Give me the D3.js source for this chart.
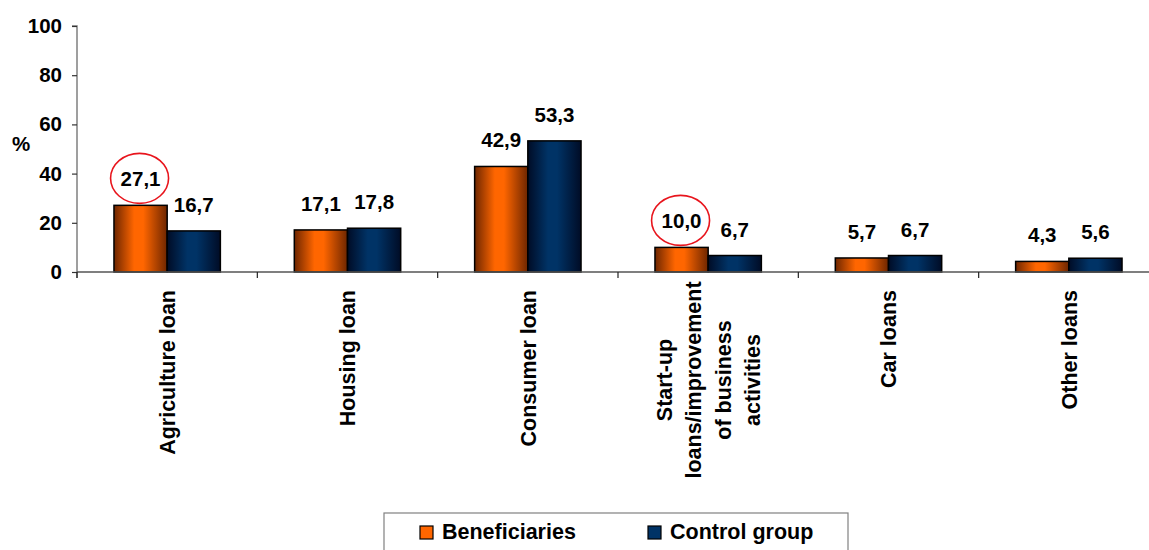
<!DOCTYPE html>
<html>
<head>
<meta charset="utf-8">
<script src="https://cdn.jsdelivr.net/npm/d3@7"></script>
<style>
  html, body { margin: 0; padding: 0; background: #fff; }
  svg { display: block; font-family: "Liberation Sans", Arial, sans-serif; font-weight: bold; }
</style>
</head>
<body>
<svg id="chart" width="1149" height="550"></svg>
<script>
// Loan types
const categories = [
  ["Agriculture loan"],
  ["Housing loan"],
  ["Consumer loan"],
  ["Start-up", "loans/improvement", "of business", "activities"],
  ["Car loans"],
  ["Other loans"]
];
const seriesNames = ["Beneficiaries", "Control group"];
const beneficiaries = [27.1, 17.1, 42.9, 10.0, 5.7, 4.3];
const controlGroup  = [16.7, 17.8, 53.3, 6.7, 6.7, 5.6];
const yTicks = [0, 20, 40, 60, 80, 100];
// Values singled out with a red ring: [category index, series index]
const highlighted = [[0, 0], [3, 0]];

const fmt = v => v.toFixed(1).replace(".", ",");

const svg = d3.select("#chart");
const plot = { left: 77, top: 26, bottom: 272, right: 1159 };
const labelSize = 20.5;

const catKeys = categories.map((c, i) => i);
const x0 = d3.scaleBand()
  .domain(catKeys)
  .range([plot.left, plot.right])
  .paddingInner(0.41)
  .paddingOuter(0.205);
const x1 = d3.scaleBand()
  .domain([0, 1])
  .range([0, x0.bandwidth()]);
const y = d3.scaleLinear().domain([0, 100]).range([plot.bottom, plot.top]);

// Bar gradients: dark edges, bright centre
const defs = svg.append("defs");
const grads = [
  { id: "gOrange", stops: [["0%", "#6e2600"], ["38%", "#ff6600"], ["55%", "#ff6600"], ["100%", "#6e2600"]] },
  { id: "gNavy",   stops: [["0%", "#000c26"], ["38%", "#003366"], ["55%", "#003366"], ["100%", "#000c26"]] }
];
grads.forEach(g => {
  const lg = defs.append("linearGradient").attr("id", g.id)
    .attr("x1", "0%").attr("x2", "100%").attr("y1", "0%").attr("y2", "0%");
  g.stops.forEach(s => lg.append("stop").attr("offset", s[0]).attr("stop-color", s[1]));
});
const fills = ["url(#gOrange)", "url(#gNavy)"];
const swatchFills = ["#ff6600", "#003366"];

// Y axis
const yAxis = d3.axisLeft(y).tickValues(yTicks).tickSize(5).tickPadding(10).tickFormat(d3.format("d"));
const gy = svg.append("g").attr("transform", `translate(${plot.left},0)`).call(yAxis)
  .attr("font-size", labelSize).attr("font-family", "Liberation Sans, Arial, sans-serif")
  .attr("font-weight", "bold");
gy.select(".domain").attr("stroke", "#808080").attr("stroke-width", 1.5)
  .attr("d", `M-5,${plot.top}H0V${plot.bottom + 6}`);
gy.selectAll(".tick line").attr("stroke", "#333").attr("stroke-width", 1.2);
gy.selectAll(".tick text").attr("fill", "#000");

svg.append("text").attr("x", 21).attr("y", 151).attr("text-anchor", "middle")
  .attr("font-size", labelSize).text("%");

// Bars
const series = [beneficiaries, controlGroup];
const groups = svg.append("g").selectAll("g").data(catKeys).join("g")
  .attr("transform", i => `translate(${x0(i)},0)`);
groups.selectAll("rect").data(i => series.map((s, k) => ({ k, v: s[i] }))).join("rect")
  .attr("x", d => x1(d.k))
  .attr("width", x1.bandwidth())
  .attr("y", d => y(d.v))
  .attr("height", d => y(0) - y(d.v))
  .attr("fill", d => fills[d.k])
  .attr("stroke", "#000").attr("stroke-width", 1.5);

// Value labels
groups.selectAll("text.val").data(i => series.map((s, k) => ({ k, v: s[i] }))).join("text")
  .attr("class", "val")
  .attr("x", d => x1(d.k) + x1.bandwidth() / 2)
  .attr("y", d => y(d.v) - 19)
  .attr("text-anchor", "middle").attr("font-size", labelSize)
  .text(d => fmt(d.v));

// X axis baseline with ticks at category boundaries
const step = x0.step();
const edge = (step - x0.bandwidth()) / 2;
const bounds = catKeys.map(i => x0(i) - edge).concat([x0(catKeys.length - 1) + x0.bandwidth() + edge]);
svg.append("line").attr("x1", plot.left).attr("x2", 1149)
  .attr("y1", plot.bottom).attr("y2", plot.bottom)
  .attr("stroke", "#555").attr("stroke-width", 1.5);
svg.append("g").selectAll("line").data(bounds).join("line")
  .attr("x1", d => d).attr("x2", d => d)
  .attr("y1", plot.bottom).attr("y2", plot.bottom + 6)
  .attr("stroke", "#222").attr("stroke-width", 1.2);

// Category labels, rotated
const lineGap = 29.5;
catKeys.forEach(i => {
  const lines = categories[i];
  const cx = x0(i) + x0.bandwidth() / 2;
  const n = lines.length;
  const t = svg.append("text").attr("font-size", 21.5)
    .attr("transform", `translate(${cx},${n > 1 ? 380 : 290}) rotate(-90)`)
    .attr("text-anchor", n > 1 ? "middle" : "end");
  lines.forEach((ln, j) => {
    t.append("tspan").attr("x", 0)
      .attr("y", (j - (n - 1) / 2) * lineGap)
      .attr("dy", "0.36em")
      .text(ln);
  });
});

// Red rings around highlighted values
highlighted.forEach(([ci, si]) => {
  const v = series[si][ci];
  const cx = x0(ci) + x1(si) + x1.bandwidth() / 2;
  svg.append("ellipse")
    .attr("cx", cx - 1).attr("cy", y(v) - 27)
    .attr("rx", 29).attr("ry", 25)
    .attr("fill", "none").attr("stroke", "#e8141c").attr("stroke-width", 1.6);
});

// Legend
const legend = svg.append("g");
legend.append("rect").attr("x", 384).attr("y", 513).attr("width", 464).attr("height", 50)
  .attr("fill", "#fff").attr("stroke", "#808080").attr("stroke-width", 1.2);
const legX = [420, 648];
seriesNames.forEach((name, k) => {
  legend.append("rect").attr("x", legX[k]).attr("y", 526).attr("width", 13).attr("height", 13)
    .attr("fill", swatchFills[k]).attr("stroke", "#000").attr("stroke-width", 1.2);
  legend.append("text").attr("x", legX[k] + 22).attr("y", 539)
    .attr("font-size", 21.5).text(name);
});
</script>
</body>
</html>
